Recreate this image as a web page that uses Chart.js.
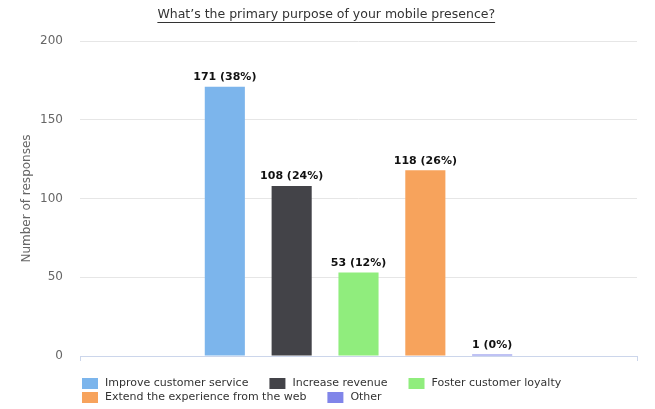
<!DOCTYPE html>
<html>
<head>
<meta charset="utf-8">
<title>Mobile presence</title>
<script src="https://cdn.jsdelivr.net/npm/chart.js@4.4.1/dist/chart.umd.min.js"></script>
<style>
  html, body { margin: 0; padding: 0; background: #fff; }
  #wrap { width: 655px; height: 409px; }
</style>
</head>
<body>
<div id="wrap"><canvas id="chart"></canvas></div>
<script>
const titleText = 'What\u2019s the primary purpose of your mobile presence?'
const categories = ['']
const seriesNames = ['Improve customer service', 'Increase revenue', 'Foster customer loyalty', 'Extend the experience from the web', 'Other']
const seriesValues = [171, 108, 53, 118, 1]
const seriesColors = ['#7cb5ec', '#434348', '#90ed7d', '#f7a35c', '#8085e9']
const yTicks = [0, 50, 100, 150, 200]

const FONT = "'DejaVu Sans', Verdana, sans-serif"
const total = seriesValues.reduce((a, b) => a + b, 0)

// "171 (38%)" above each bar
const barLabels = {
  id: 'barLabels',
  afterDatasetsDraw (chart) {
    const ctx = chart.ctx
    ctx.save()
    ctx.font = 'bold 11px ' + FONT
    ctx.fillStyle = '#111'
    ctx.textAlign = 'center'
    ctx.textBaseline = 'bottom'
    chart.data.datasets.forEach((ds, i) => {
      const bar = chart.getDatasetMeta(i).data[0]
      const v = ds.data[0]
      ctx.fillText(v + ' (' + Math.round(v / total * 100) + '%)', bar.x, bar.y - 4)
    })
    ctx.restore()
  }
}

// underline under the title
const titleUnderline = {
  id: 'titleUnderline',
  afterDraw (chart) {
    const tb = chart.titleBlock
    if (!tb) return
    const ctx = chart.ctx
    const opts = chart.options.plugins.title
    ctx.save()
    ctx.font = opts.font.size + 'px ' + FONT
    const w = ctx.measureText(titleText).width
    const cx = tb.left + tb.width / 2
    const y = Math.round(tb.top + opts.padding.top + opts.font.size * 1.2 / 2 + 7) + 0.5
    ctx.strokeStyle = '#333'
    ctx.lineWidth = 1
    ctx.beginPath()
    ctx.moveTo(cx - w / 2, y)
    ctx.lineTo(cx + w / 2, y)
    ctx.stroke()
    ctx.restore()
  }
}

// legend laid out like the original: left aligned, two rows
const bottomLegend = {
  id: 'bottomLegend',
  afterDraw (chart) {
    const ctx = chart.ctx
    const startX = 82
    const maxX = chart.chartArea.right
    const boxW = 16
    const boxH = 11
    const gap = 21
    let x = startX
    let y = 383
    ctx.save()
    ctx.font = '11px ' + FONT
    ctx.textBaseline = 'middle'
    ctx.textAlign = 'left'
    chart.data.datasets.forEach((ds, i) => {
      const w = boxW + 7 + ctx.measureText(ds.label).width
      if (i > 0 && x + w > maxX) {
        x = startX
        y += 14
      }
      ctx.fillStyle = ds.backgroundColor
      ctx.fillRect(x, Math.round(y - boxH / 2), boxW, boxH)
      ctx.fillStyle = '#333'
      ctx.fillText(ds.label, x + boxW + 7, y)
      x += w + gap
    })
    ctx.restore()
  }
}

new Chart(document.getElementById('chart'), {
  type: 'bar',
  data: {
    labels: categories,
    datasets: seriesNames.map((name, i) => ({
      label: name,
      data: [seriesValues[i]],
      backgroundColor: seriesColors[i],
      borderWidth: 0,
      categoryPercentage: 0.6,
      barPercentage: 0.6
    }))
  },
  options: {
    responsive: true,
    maintainAspectRatio: false,
    animation: false,
    events: [],
    layout: {
      padding: { top: 0, left: 15.5, right: 18, bottom: 48 }
    },
    plugins: {
      legend: { display: false },
      tooltip: { enabled: false },
      title: {
        display: true,
        text: titleText,
        color: '#333',
        font: { family: FONT, size: 12.5, weight: 'normal' },
        padding: { top: 7, bottom: 19 }
      }
    },
    scales: {
      x: {
        ticks: { display: false },
        grid: {
          display: true,
          drawOnChartArea: false,
          drawTicks: true,
          tickLength: 5,
          color: '#ccd6eb'
        },
        border: { display: true, color: '#ccd6eb' }
      },
      y: {
        min: 0,
        max: 200,
        afterBuildTicks (scale) {
          scale.ticks = yTicks.map(v => ({ value: v }))
        },
        // plot starts at x=80 like the original
        afterFit (scale) {
          scale.width = 64.5
        },
        ticks: {
          color: '#666',
          padding: 17,
          font: { family: FONT, size: 12 }
        },
        grid: { color: '#e6e6e6', drawTicks: false },
        border: { display: false },
        title: {
          display: true,
          text: 'Number of responses',
          color: '#666',
          font: { family: FONT, size: 12 },
          padding: { top: 4, bottom: 4 }
        }
      }
    }
  },
  plugins: [barLabels, titleUnderline, bottomLegend]
})
</script>
</body>
</html>
